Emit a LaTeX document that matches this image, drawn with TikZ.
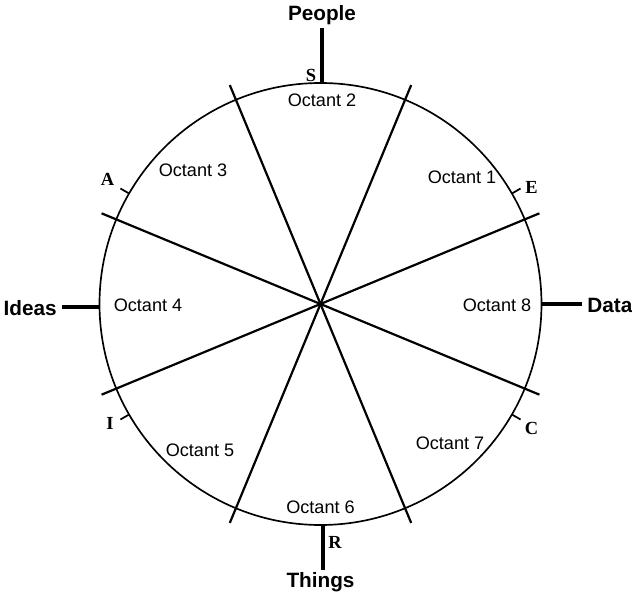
\documentclass[tikz,border=0pt]{standalone}
\usepackage{fontspec}
\setmainfont{Liberation Sans}
\newfontfamily\lettfont{Liberation Serif}
\begin{document}
\begin{tikzpicture}[x=0.02cm, y=0.02cm,
    octant/.style={font=\fontsize{10.3}{12}\selectfont},
    axislabel/.style={font=\fontsize{11.8}{13}\selectfont\bfseries},
    letter/.style={font=\fontsize{10.5}{12}\selectfont\lettfont\bfseries}]
    \useasboundingbox (-320.5,-290) rectangle (311.5,304);
    \coordinate (o) at (0,0);
    \draw[line width=0.95pt] (o) circle (221);
    % the four diameters
    \foreach \a [count=\i] in {22.5,67.5,112.5,157.5} {
        \coordinate (p\i) at (\a:237);
        \coordinate (q\i) at (\a+180:237);
        \draw[line width=1.25pt] (p\i) -- (q\i);
    }
    % octant labels
    \node[octant] (o1) at (141.5,127) {Octant 1};
    \node[octant] (o2) at (1.5,204) {Octant 2};
    \node[octant] (o3) at (-127.5,134) {Octant 3};
    \node[octant] (o4) at (-172.5,-1) {Octant 4};
    \node[octant] (o5) at (-120.5,-146) {Octant 5};
    \node[octant] (o6) at (0,-203) {Octant 6};
    \node[octant] (o7) at (129.5,-139) {Octant 7};
    \node[octant] (o8) at (176.5,-1) {Octant 8};
    % main axes
    \coordinate (ptop) at (1.5,221);
    \coordinate (pend) at (1.5,276);
    \coordinate (dtop) at (220.5,0);
    \coordinate (dend) at (261.5,0);
    \coordinate (itop) at (-220.5,-3);
    \coordinate (iend) at (-258.5,-3);
    \coordinate (ttop) at (2.5,-221);
    \coordinate (tend) at (2.5,-266);
    \draw[line width=2.1pt] (ptop) -- (pend);
    \draw[line width=2.1pt] (dtop) -- (dend);
    \draw[line width=2.1pt] (itop) -- (iend);
    \draw[line width=2.1pt] (ttop) -- (tend);
    \node[axislabel] (people) at (1.5,289) {People};
    \node[axislabel, anchor=west, inner sep=0pt] (data) at (266.5,-1) {Data};
    \node[axislabel, anchor=east, inner sep=0pt] (ideas) at (-263.5,-4) {Ideas};
    \node[axislabel] (things) at (0,-278) {Things};
    % small ticks
    \foreach \a/\n in {150/a,30/e,210/i,330/c} {
        \draw[line width=1pt] (\a:221) -- (\a:231);
    }
    \node[letter] (s) at (-9.5,229) {S};
    \node[letter] (r) at (14.5,-238) {R};
    \node[letter] (a) at (-213,125) {A};
    \node[letter] (e) at (211,117) {E};
    \node[letter] (i) at (-210.5,-119) {I};
    \node[letter] (c) at (211,-124) {C};
\end{tikzpicture}
\end{document}
